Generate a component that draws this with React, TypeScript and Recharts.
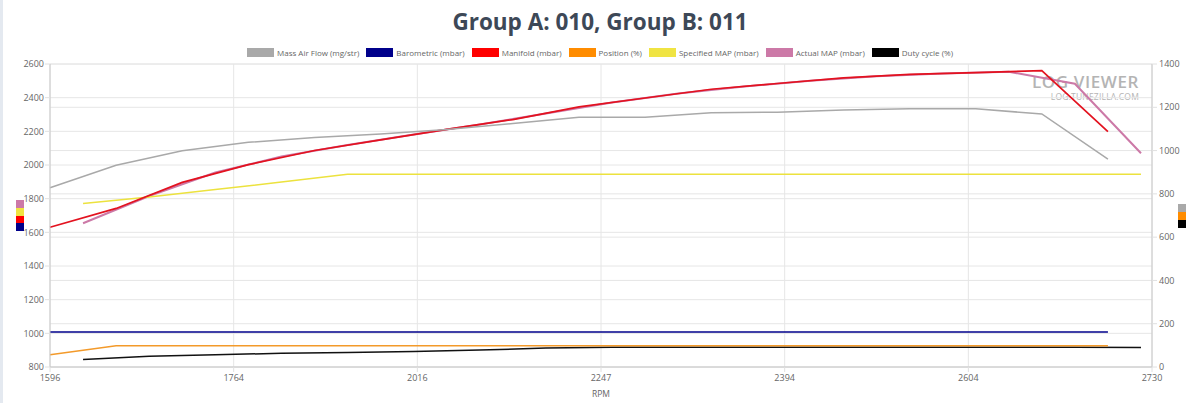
import { LineChart, Line, XAxis, YAxis, CartesianGrid } from "recharts";

// sample index on the time axis (group A and group B are logged alternately)
const sampleA = [0, 2, 4, 6, 8, 10, 12, 14, 16, 18, 20, 22, 24, 26, 28, 30, 32];
const sampleB = [1, 3, 5, 7, 9, 11, 13, 15, 17, 19, 21, 23, 25, 27, 29, 31, 33];

// group A
const maf = [828, 932, 999, 1038, 1060, 1077, 1097, 1125, 1154, 1154, 1175, 1177, 1187, 1193, 1193, 1169, 961];
const baro = [1008, 1008, 1008, 1008, 1008, 1008, 1008, 1008, 1008, 1008, 1008, 1008, 1008, 1008, 1008, 1008, 1008];
const manifold = [1630, 1742, 1897, 2002, 2086, 2149, 2212, 2270, 2345, 2398, 2450, 2484, 2517, 2538, 2549, 2560, 2198];
const position = [57, 98, 98, 98, 98, 98, 98, 98, 98, 98, 98, 98, 98, 98, 98, 98, 98];

// group B
const specMap = [1772, 1810, 1854, 1899, 1945, 1945, 1945, 1945, 1945, 1945, 1945, 1945, 1945, 1945, 1945, 1945, 1945];
const actMap = [1654, 1816, 1955, 2050, 2119, 2181, 2241, 2306, 2371, 2425, 2466, 2501, 2527, 2543, 2554, 2483, 2070];
const duty = [35, 50, 57, 63, 67, 72, 78, 88, 91, 91, 91, 91, 91, 91, 91, 91, 90];

// x axis: sample positions of the labels and the RPM shown there
const xMax = 33.333;
const xTickPos = [0, 5.556, 11.111, 16.667, 22.222, 27.778, 33.333];
const xTickLabels = ["1596", "1764", "2016", "2247", "2394", "2604", "2730"];

const leftTicks = [800, 1000, 1200, 1400, 1600, 1800, 2000, 2200, 2400, 2600];
const rightTicks = [0, 200, 400, 600, 800, 1000, 1200, 1400];

const groupA = sampleA.map((t, i) => ({
  t,
  maf: maf[i],
  baro: baro[i],
  manifold: manifold[i],
  position: position[i],
}));

const groupB = sampleB.map((t, i) => ({
  t,
  specMap: specMap[i],
  actMap: actMap[i],
  duty: duty[i],
}));

const SERIES = [
  { key: "maf", name: "Mass Air Flow (mg/str)", color: "#a9a9a9", line: "#a9a9a9", axis: "right", data: groupA, width: 1.5 },
  { key: "baro", name: "Barometric (mbar)", color: "#00008b", line: "#00008b", axis: "left", data: groupA, width: 1.5 },
  { key: "manifold", name: "Manifold (mbar)", color: "#ff0000", line: "#e3121f", axis: "left", data: groupA, width: 1.7 },
  { key: "position", name: "Position (%)", color: "#ff8c00", line: "#f39a2a", axis: "right", data: groupA, width: 1.5 },
  { key: "specMap", name: "Specified MAP (mbar)", color: "#f0e442", line: "#ece23e", axis: "left", data: groupB, width: 1.5 },
  { key: "actMap", name: "Actual MAP (mbar)", color: "#cc79a7", line: "#cc79a7", axis: "left", data: groupB, width: 2 },
  { key: "duty", name: "Duty cycle (%)", color: "#000000", line: "#111111", axis: "right", data: groupB, width: 1.5 },
];

const FONT = "'Open Sans', sans-serif";
const tickStyle = { fill: "#666", fontSize: 9, fontFamily: FONT };

export default function App() {
  const leftSeries = SERIES.filter((s) => s.axis === "left").reverse();
  const rightSeries = SERIES.filter((s) => s.axis === "right");

  return (
    <div
      style={{
        position: "absolute",
        top: 0,
        left: 0,
        width: 1200,
        height: 403,
        background: "#fff",
        fontFamily: FONT,
        overflow: "hidden",
      }}
    >
      <div style={{ position: "absolute", left: 0, top: 0, width: 3, height: 403, background: "#e4e9f0" }} />

      <div
        style={{
          position: "absolute",
          top: 6,
          left: 0,
          width: 1200,
          textAlign: "center",
          fontSize: 22.5,
          fontWeight: 700,
          color: "#3d4857",
        }}
      >
        Group A: 010, Group B: 011
      </div>

      <div
        style={{
          position: "absolute",
          top: 47,
          left: 0,
          width: 1200,
          display: "flex",
          justifyContent: "center",
          alignItems: "center",
          fontSize: 8,
          color: "#666",
          whiteSpace: "nowrap",
        }}
      >
        {SERIES.map((s) => (
          <div key={s.key} style={{ display: "flex", alignItems: "center", margin: "0 3.5px" }}>
            <span style={{ display: "inline-block", width: 27, height: 9, background: s.color, marginRight: 3 }} />
            {s.name}
          </div>
        ))}
      </div>

      {/* watermark, sits behind the lines */}
      <div
        style={{
          position: "absolute",
          top: 73,
          right: 61,
          textAlign: "right",
          color: "#b4b4b4",
          lineHeight: 1,
        }}
      >
        <div style={{ fontSize: 17, fontWeight: 600, letterSpacing: 0.6 }}>LOG VIEWER</div>
        <div style={{ fontSize: 8.5, marginTop: 3, letterSpacing: 0.2 }}>LOG.TUNEZILLA.COM</div>
      </div>

      <div style={{ position: "absolute", top: 0, left: 0 }}>
        <LineChart width={1200} height={403} margin={{ top: 64, right: 0, bottom: 0, left: 0 }}>
          <CartesianGrid stroke="#e6e6e6" />
          <CartesianGrid yAxisId="right" stroke="#e6e6e6" vertical={false} />
          <XAxis
            dataKey="t"
            type="number"
            domain={[0, xMax]}
            ticks={xTickPos}
            interval={0}
            tickFormatter={(v, i) => xTickLabels[i]}
            height={36}
            tick={tickStyle}
            tickSize={5}
            tickMargin={2.5}
            axisLine={{ stroke: "#c8c8c8" }}
            tickLine={{ stroke: "#e0e0e0" }}
          />
          <YAxis
            domain={[800, 2600]}
            ticks={leftTicks}
            interval={0}
            width={50}
            tick={tickStyle}
            tickSize={5}
            tickMargin={1}
            axisLine={{ stroke: "#c8c8c8" }}
            tickLine={{ stroke: "#e0e0e0" }}
          />
          <YAxis
            yAxisId="right"
            orientation="right"
            domain={[0, 1400]}
            ticks={rightTicks}
            interval={0}
            width={48}
            tick={tickStyle}
            tickSize={5}
            tickMargin={2}
            axisLine={{ stroke: "#c8c8c8" }}
            tickLine={{ stroke: "#e0e0e0" }}
          />
          {[...SERIES].reverse().map((s) => (
            <Line
              key={s.key}
              data={s.data}
              dataKey={s.key}
              name={s.name}
              yAxisId={s.axis === "right" ? "right" : 0}
              type="linear"
              stroke={s.line}
              strokeWidth={s.width}
              dot={false}
              activeDot={false}
              isAnimationActive={false}
            />
          ))}
        </LineChart>
      </div>

      <div
        style={{
          position: "absolute",
          top: 388,
          left: 50,
          width: 1102,
          textAlign: "center",
          fontSize: 8.5,
          color: "#666",
        }}
      >
        RPM
      </div>

      <div style={{ position: "absolute", left: 16, top: 200 }}>
        {leftSeries.map((s) => (
          <div key={s.key} style={{ width: 8, height: 7.75, background: s.color }} />
        ))}
      </div>
      <div style={{ position: "absolute", left: 1178, top: 204 }}>
        {rightSeries.map((s) => (
          <div key={s.key} style={{ width: 8, height: 8, background: s.color }} />
        ))}
      </div>
    </div>
  );
}
